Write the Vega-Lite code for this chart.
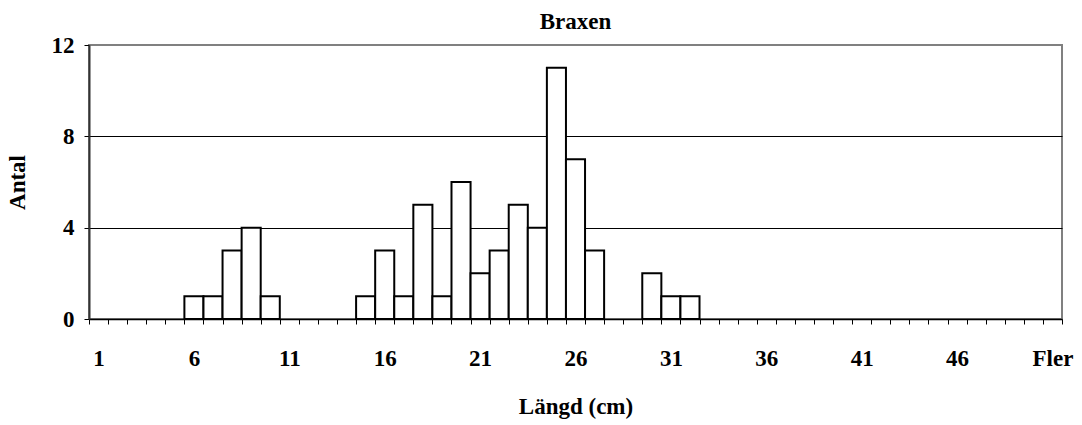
{
  "$schema": "https://vega.github.io/schema/vega-lite/v6.json",
  "width": 973,
  "height": 274,
  "autosize": {"type": "none"},
  "padding": {"left": 89, "top": 45, "right": 20, "bottom": 106},
  "background": "white",
  "title": {"text": "Braxen", "font": "Liberation Serif", "fontSize": 23, "fontWeight": "bold", "color": "black", "offset": 0},
  "config": {
    "view": {"stroke": "#808080", "strokeWidth": 2},
    "axis": {"labelFont": "Liberation Serif", "titleFont": "Liberation Serif", "labelFontWeight": "bold", "titleFontWeight": "bold", "labelFontSize": 23, "titleFontSize": 23, "labelColor": "black", "titleColor": "black"}
  },
  "data": {"values": [
    {"langd": "6", "antal": 1},
    {"langd": "7", "antal": 1},
    {"langd": "8", "antal": 3},
    {"langd": "9", "antal": 4},
    {"langd": "10", "antal": 1},
    {"langd": "15", "antal": 1},
    {"langd": "16", "antal": 3},
    {"langd": "17", "antal": 1},
    {"langd": "18", "antal": 5},
    {"langd": "19", "antal": 1},
    {"langd": "20", "antal": 6},
    {"langd": "21", "antal": 2},
    {"langd": "22", "antal": 3},
    {"langd": "23", "antal": 5},
    {"langd": "24", "antal": 4},
    {"langd": "25", "antal": 11},
    {"langd": "26", "antal": 7},
    {"langd": "27", "antal": 3},
    {"langd": "30", "antal": 2},
    {"langd": "31", "antal": 1},
    {"langd": "32", "antal": 1}
  ]},
  "mark": {"type": "bar", "fill": "white", "stroke": "black", "strokeWidth": 2},
  "encoding": {
    "x": {
      "field": "langd", "type": "ordinal", "title": "Längd (cm)",
      "scale": {"domain": ["1","2","3","4","5","6","7","8","9","10","11","12","13","14","15","16","17","18","19","20","21","22","23","24","25","26","27","28","29","30","31","32","33","34","35","36","37","38","39","40","41","42","43","44","45","46","47","48","49","50","Fler"], "paddingInner": 0, "paddingOuter": 0},
      "axis": {
        "labelAngle": 0, "tickBand": "extent", "tickSize": 5, "tickColor": "black", "domainColor": "black", "domainWidth": 1.5,
        "labelPadding": 23, "titlePadding": 25,
        "labelExpr": "(datum.index*50) % 5 == 0 ? datum.label : ''",
        "labelOverlap": false
      }
    },
    "y": {
      "field": "antal", "type": "quantitative", "title": "Antal",
      "scale": {"domain": [0, 12], "nice": false},
      "axis": {
        "values": [0, 4, 8, 12], "tickSize": 5, "tickColor": "black", "domainColor": "#333333", "domainWidth": 2,
        "labelPadding": 10, "titlePadding": 22,
        "grid": true, "gridColor": "black", "gridWidth": 1,
        "gridOpacity": {"condition": {"test": "datum.value === 4 || datum.value === 8", "value": 1}, "value": 0}
      }
    }
  }
}
